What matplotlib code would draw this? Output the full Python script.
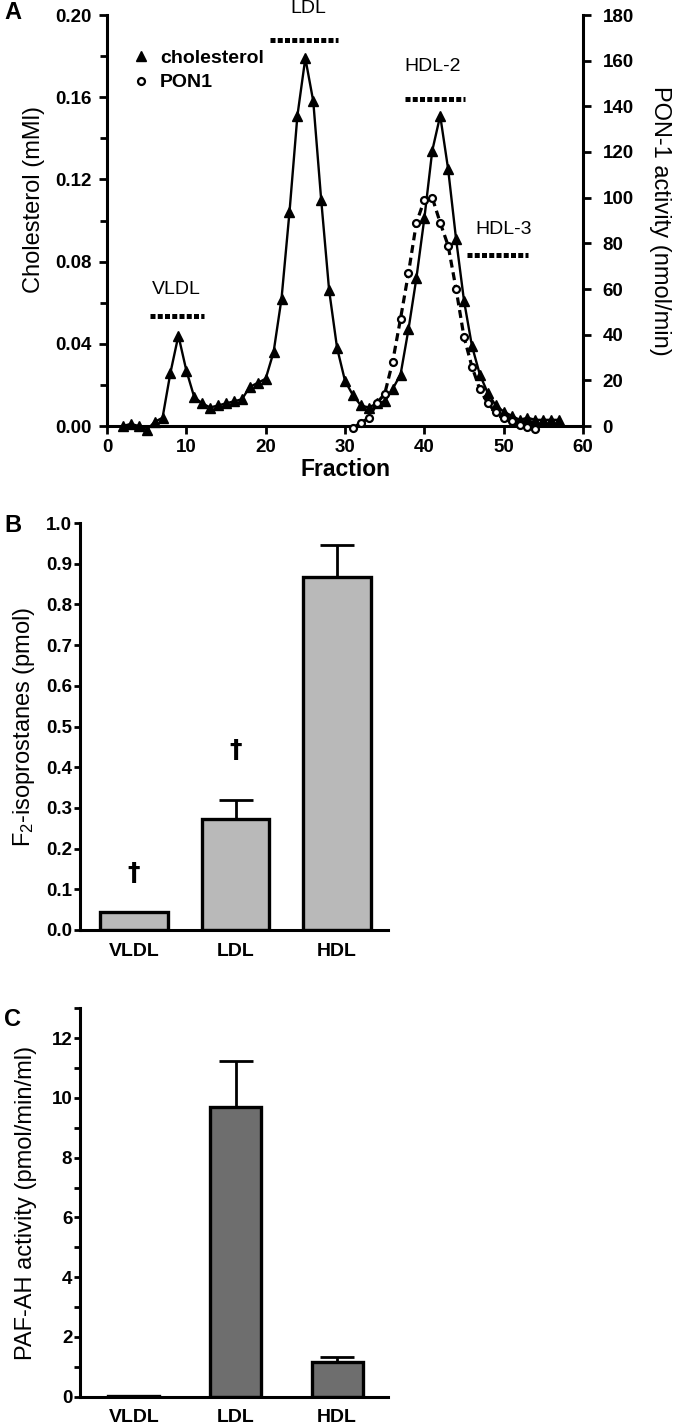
import matplotlib
matplotlib.use("Agg")
import matplotlib.pyplot as plt
import numpy as np
from matplotlib.lines import Line2D
from matplotlib.ticker import MultipleLocator

plt.rcParams['font.family'] = ['Liberation Sans', 'DejaVu Sans']
plt.rcParams['mathtext.default'] = 'regular'
TICKFONT = ['Liberation Sans Narrow', 'Liberation Sans', 'DejaVu Sans']

# panel A: FPLC fractions
fractions = list(range(2, 58))
cholesterol = [0.000, 0.001, 0.000, -0.002, 0.002, 0.004, 0.026, 0.044, 0.027, 0.014,
               0.011, 0.009, 0.010, 0.011, 0.012, 0.013, 0.019, 0.021, 0.023, 0.036,
               0.062, 0.104, 0.151, 0.179, 0.158, 0.110, 0.066, 0.038, 0.022, 0.015,
               0.010, 0.009, 0.011, 0.012, 0.018, 0.025, 0.047, 0.072, 0.101, 0.134,
               0.151, 0.125, 0.091, 0.061, 0.039, 0.025, 0.016, 0.010, 0.007, 0.005,
               0.003, 0.004, 0.003, 0.003, 0.003, 0.003]
pon_fractions = list(range(31, 55))
pon1 = [-1, 1.5, 3.4, 10, 14, 28, 47, 67, 89, 99, 100, 89, 79, 60, 39, 26,
        16, 10, 6, 3.4, 2, 0.4, -0.3, -1.4]

# panel B / C
classes = ['VLDL', 'LDL', 'HDL']
isoprostanes = [0.045, 0.272, 0.867]
isoprostanes_err = [0.0, 0.047, 0.079]
pafah = [0.04, 9.68, 1.15]
pafah_err = [0.0, 1.57, 0.19]

fig = plt.figure(figsize=(6.74, 14.28), dpi=100)

# ---------------- panel A
ax = fig.add_axes([107/674, 1 - 426/1428, 476/674, 411/1428])
ax2 = ax.twinx()
ax.plot(fractions, cholesterol, color='black', lw=1.7, marker='^', ms=7.5,
        clip_on=False, zorder=3)
ax2.plot(pon_fractions, pon1, color='black', lw=2.3, ls=(0, (2.5, 1.5)),
         marker='o', ms=5, mfc='white', mec='black', mew=1.6, clip_on=False)

ax.set_xlim(0, 60)
ax.set_ylim(0, 0.2)
ax2.set_ylim(0, 180)
ax.set_xticks(range(0, 61, 10))
ax.set_yticks(np.arange(0, 0.201, 0.04))
ax.yaxis.set_minor_locator(MultipleLocator(0.02))
ax.set_yticklabels(['%.2f' % v for v in np.arange(0, 0.201, 0.04)])
ax2.set_yticks(range(0, 181, 20))

ax.spines['top'].set_visible(False)
ax2.spines['top'].set_visible(False)
ax2.spines['left'].set_visible(False)
ax2.spines['bottom'].set_visible(False)
ax.spines['right'].set_visible(False)
for sp in ['left', 'bottom']:
    ax.spines[sp].set_linewidth(2.2)
ax2.spines['right'].set_linewidth(2.2)

for a in (ax, ax2):
    a.tick_params(which='major', length=6, width=2, direction='out', labelsize=13.5, pad=5)
    a.tick_params(which='minor', length=5, width=2, direction='out')
    for lab in a.get_xticklabels() + a.get_yticklabels():
        lab.set_family(TICKFONT)
        lab.set_fontweight('bold')
ax.tick_params(axis='x', pad=3)
ax2.tick_params(axis='y', pad=8)

ax.set_xlabel('Fraction', fontsize=16.5, fontweight='bold', labelpad=2)
ax.set_ylabel('Cholesterol (mMl)', fontsize=17)
ax.yaxis.set_label_coords(-0.13, 0.55)
ax2.set_ylabel('PON-1 activity (nmol/min)', fontsize=17, rotation=270)
ax2.yaxis.set_label_coords(1.185, 0.5)

# lipoprotein class markers
bars = [('VLDL', 5.4, 12.2, 0.0537, 8.8, 0.0664),
        ('LDL', 20.6, 29.1, 0.188, 25.4, 0.203),
        ('HDL-2', 37.5, 45.1, 0.159, 41.1, 0.175),
        ('HDL-3', 45.4, 53.1, 0.0834, 50.0, 0.0957)]
for name, x0, x1, yb, xt, yt in bars:
    ax.plot([x0, x1], [yb, yb], color='black', lw=3.6, ls=(0, (1, 0.45)),
            solid_capstyle='butt', dash_capstyle='butt', clip_on=False)
    ax.text(xt, yt, name, fontsize=14, ha='center', va='center')

handles = [Line2D([], [], color='black', marker='^', ls='none', ms=7.5),
           Line2D([], [], color='black', marker='o', ls='none', ms=5,
                  mfc='white', mew=1.6)]
leg = ax2.legend(handles, ['cholesterol', 'PON1'], loc='upper left',
                 bbox_to_anchor=(0.03, 0.94), frameon=False, handlelength=1.0,
                 handletextpad=0.5, labelspacing=0.35, borderpad=0,
                 prop={'weight': 'bold', 'size': 14})

fig.text(4/674, 1 - 1/1428, 'A', fontsize=17, fontweight='bold', va='top')


# ---------------- panels B and C
def bar_panel(rect, values, errs, color, width, ylim, major, minor, fmt, ylabel):
    a = fig.add_axes(rect)
    x = np.arange(len(classes))
    a.errorbar(x, values, yerr=[np.zeros(len(errs)), errs], fmt='none',
               ecolor='black', elinewidth=2, capsize=12.5, capthick=2, zorder=1)
    a.bar(x, values, width=width, color=color, edgecolor='black', lw=2.4, zorder=2)
    a.set_xlim(-0.53, 2.5)
    a.set_ylim(*ylim)
    a.spines['top'].set_visible(False)
    a.spines['right'].set_visible(False)
    a.spines['left'].set_linewidth(2.2)
    a.spines['bottom'].set_linewidth(2.2)
    a.set_xticks(x)
    a.set_xticklabels(classes, fontsize=14, fontweight='bold')
    a.tick_params(axis='x', length=0, pad=9)
    if minor:
        a.yaxis.set_minor_locator(MultipleLocator(minor))
    a.tick_params(axis='y', which='major', length=4, width=2, labelsize=13.5, pad=1.5)
    a.tick_params(axis='y', which='minor', length=4, width=2)
    ticks = np.arange(ylim[0], ylim[1] + 1e-9, major)
    a.set_yticks(ticks)
    a.set_yticklabels([fmt % t for t in ticks])
    for lab in a.get_yticklabels():
        lab.set_family(TICKFONT)
        lab.set_fontweight('bold')
    a.set_ylabel(ylabel, fontsize=17)
    a.yaxis.set_label_coords(-0.14, 0.5)
    return a


axB = bar_panel([80/674, 1 - 930/1428, 308/674, 407/1428], isoprostanes,
                isoprostanes_err, '#b9b9b9', 0.666, (0, 1.0), 0.1, None, '%.1f',
                'F$_{\\mathregular{2}}$-isoprostanes (pmol)')
for i, yv in [(0, 0.14), (1, 0.442)]:
    axB.text(i, yv, '\u2020', fontsize=18, fontweight='bold', family='DejaVu Sans',
             ha='center', va='center')
fig.text(4/674, 1 - 526/1428, 'B', fontsize=17, fontweight='bold', va='center')

axC = bar_panel([80/674, 1 - 1396.7/1428, 308/674, 388.4/1428], pafah, pafah_err,
                '#6e6e6e', 0.5, (0, 12), 2, 1, '%d',
                'PAF-AH activity (pmol/min/ml)')
axC.set_ylim(0, 13)
fig.text(4/674, 1 - 1019/1428, 'C', fontsize=17, fontweight='bold', va='center')

fig.savefig('out.png', dpi=100)
